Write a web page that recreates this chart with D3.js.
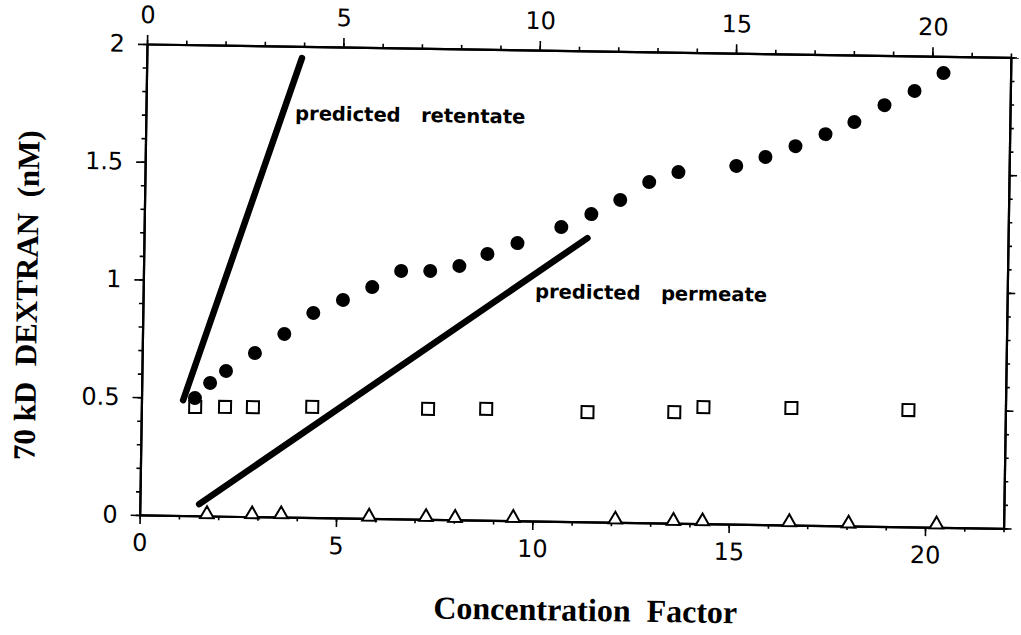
<!DOCTYPE html>
<html>
<head>
<meta charset="utf-8">
<script src="https://cdn.jsdelivr.net/npm/d3@7"></script>
<style>
  html, body { margin: 0; padding: 0; background: #fff; }
  svg { display: block; }
</style>
</head>
<body>
<svg id="chart" width="1021" height="635"></svg>
<script>
// ---- data ----
const retentateX = [1.36, 1.74, 2.14, 2.87, 3.61, 4.34, 5.09, 5.83, 6.56, 7.30, 8.04, 8.75, 9.51,
                    10.62, 11.38, 12.11, 12.84, 13.58, 15.05, 15.79, 16.55, 17.31, 18.04, 18.80, 19.56, 20.29];
const retentateY = [0.50, 0.565, 0.617, 0.695, 0.778, 0.869, 0.926, 0.983, 1.053, 1.055, 1.078, 1.131, 1.179,
                    1.250, 1.307, 1.369, 1.447, 1.491, 1.521, 1.561, 1.609, 1.662, 1.715, 1.789, 1.851, 1.929];

const squareX = [1.37, 2.13, 2.84, 4.35, 7.30, 8.78, 11.36, 13.57, 14.31, 16.55, 19.53];
const squareY = [0.462, 0.464, 0.465, 0.470, 0.469, 0.473, 0.466, 0.472, 0.495, 0.497, 0.496];

const triangleX = [1.71, 2.86, 3.60, 5.84, 7.29, 8.03, 9.51, 12.11, 13.59, 14.33, 16.54, 18.05, 20.29];
const triangleY = [0.008, 0.010, 0.012, 0.008, 0.010, 0.008, 0.012, 0.012, 0.010, 0.010, 0.012, 0.010, 0.012];

const predRetentateX = [1.06, 3.95];
const predRetentateY = [0.49, 1.95];
const predPermeateX = [1.51, 11.29];
const predPermeateY = [0.05, 1.205];

const xTicks = [0, 5, 10, 15, 20];
const yTicks = [0, 0.5, 1, 1.5, 2];
const yTickLabels = ["0", "0.5", "1", "1.5", "2"];
const xMinor = d3.range(0, 23, 1);
const yMinor = d3.range(0, 2.001, 0.1);

const annotations = [
  { text: "predicted   retentate", x: 3.80, y: 1.687 },
  { text: "predicted   permeate", x: 9.98, y: 0.947 }
];
const xTitle = "Concentration  Factor";
const yTitle = "70 kD  DEXTRAN  (nM)";

// ---- layout ----
const W = 864, H = 471;
const tilt = Math.atan(0.0155) * 180 / Math.PI;

const svg = d3.select("#chart");
const g = svg.append("g").attr("transform", `translate(147,44) rotate(${tilt})`);

const x = d3.scaleLinear().domain([0, 22]).range([0, W]);
const y = d3.scaleLinear().domain([0, 2]).range([H, 0]);

const tickFont = "'DejaVu Sans', sans-serif";

function styleAxis(sel) {
  sel.select(".domain").attr("stroke", "#000").attr("stroke-width", 2.2);
  sel.selectAll(".tick line").attr("stroke", "#000").attr("stroke-width", 1.6);
  sel.selectAll(".tick text").attr("fill", "#000").style("font-family", tickFont).style("font-size", "24px");
}

// minor ticks
g.append("g").attr("transform", `translate(0,${H})`)
  .call(d3.axisBottom(x).tickValues(xMinor).tickSize(4).tickSizeOuter(0).tickFormat(""))
  .call(styleAxis);
g.append("g")
  .call(d3.axisTop(x).tickValues(xMinor).tickSize(4).tickSizeOuter(0).tickFormat(""))
  .call(styleAxis);
g.append("g")
  .call(d3.axisLeft(y).tickValues(yMinor).tickSize(4).tickSizeOuter(0).tickFormat(""))
  .call(styleAxis);
g.append("g").attr("transform", `translate(${W},0)`)
  .call(d3.axisRight(y).tickValues(yMinor).tickSize(4).tickSizeOuter(0).tickFormat(""))
  .call(styleAxis);

// major ticks
g.append("g").attr("transform", `translate(0,${H})`)
  .call(d3.axisBottom(x).tickValues(xTicks).tickSize(9).tickSizeOuter(0).tickPadding(10).tickFormat(d3.format("d")))
  .call(styleAxis);
g.append("g")
  .call(d3.axisTop(x).tickValues(xTicks).tickSize(9).tickSizeOuter(0).tickPadding(12).tickFormat(d3.format("d")))
  .call(styleAxis);
g.append("g")
  .call(d3.axisLeft(y).tickValues(yTicks).tickSize(9).tickSizeOuter(0).tickPadding(13)
        .tickFormat((d, i) => yTickLabels[i]))
  .call(styleAxis);
g.append("g").attr("transform", `translate(${W},0)`)
  .call(d3.axisRight(y).tickValues(yTicks).tickSize(8).tickSizeOuter(0).tickFormat(""))
  .call(styleAxis);

// predicted lines
const line = d3.line().x(d => x(d[0])).y(d => y(d[1]));
g.append("path")
  .attr("d", line(d3.zip(predRetentateX, predRetentateY)))
  .attr("fill", "none").attr("stroke", "#000").attr("stroke-width", 6.5).attr("stroke-linecap", "round");
g.append("path")
  .attr("d", line(d3.zip(predPermeateX, predPermeateY)))
  .attr("fill", "none").attr("stroke", "#000").attr("stroke-width", 6.5).attr("stroke-linecap", "round");

// open squares
g.selectAll("rect.sq").data(d3.zip(squareX, squareY)).join("rect")
  .attr("class", "sq")
  .attr("x", d => x(d[0]) - 6).attr("y", d => y(d[1]) - 6)
  .attr("width", 12).attr("height", 12)
  .attr("fill", "#fff").attr("stroke", "#000").attr("stroke-width", 2);

// open triangles
const tri = d3.symbol().type(d3.symbolTriangle).size(80);
g.selectAll("path.tri").data(d3.zip(triangleX, triangleY)).join("path")
  .attr("class", "tri")
  .attr("d", tri)
  .attr("transform", d => `translate(${x(d[0])},${y(d[1])})`)
  .attr("fill", "#fff").attr("stroke", "#000").attr("stroke-width", 2);

// filled circles
g.selectAll("circle.ret").data(d3.zip(retentateX, retentateY)).join("circle")
  .attr("class", "ret")
  .attr("cx", d => x(d[0])).attr("cy", d => y(d[1])).attr("r", 7)
  .attr("fill", "#000");

// annotations
g.selectAll("text.ann").data(annotations).join("text")
  .attr("class", "ann")
  .attr("x", d => x(d.x)).attr("y", d => y(d.y))
  .style("font-family", "'DejaVu Sans', sans-serif")
  .style("font-weight", "bold")
  .style("font-size", "19.5px")
  .style("white-space", "pre")
  .attr("fill", "#000")
  .text(d => d.text);

// axis titles
g.append("text")
  .attr("x", 447).attr("y", 570)
  .attr("text-anchor", "middle")
  .style("font-family", "'Liberation Serif', 'Times New Roman', serif")
  .style("font-weight", "bold").style("font-size", "32px")
  .style("white-space", "pre")
  .text(xTitle);

g.append("text")
  .attr("transform", "translate(-106,253) rotate(-90)")
  .attr("text-anchor", "middle")
  .style("font-family", "'Liberation Serif', 'Times New Roman', serif")
  .style("font-weight", "bold").style("font-size", "31px")
  .style("white-space", "pre")
  .text(yTitle);
</script>
</body>
</html>
